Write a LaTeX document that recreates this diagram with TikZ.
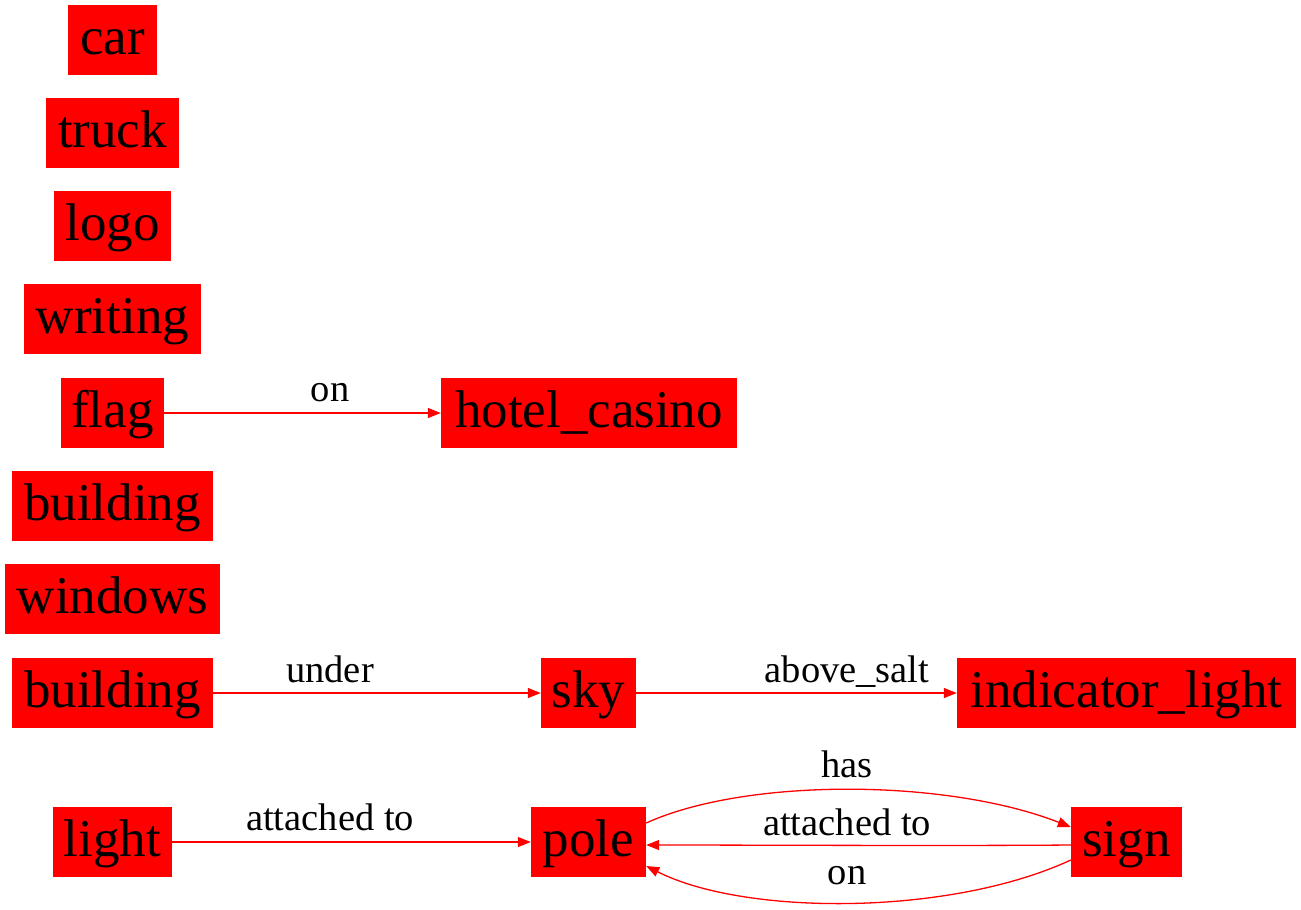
\documentclass[tikz,border=0pt]{standalone}
\usepackage{fontspec}
\setmainfont{Liberation Serif}
\usetikzlibrary{arrows.meta}
\tikzset{
  obj/.style={fill=red, draw=none, inner sep=0pt, minimum height=70pt, minimum width=#1,
    font=\fontsize{53}{60}\selectfont, text height=40pt, text depth=12pt},
  rel/.style={draw=red, line width=1.3pt, -{Triangle[length=13pt,width=10pt]}},
  lbl/.style={font=\fontsize{38.5}{44}\selectfont, inner sep=0pt, anchor=base}
}
\begin{document}
\begin{tikzpicture}[x=1pt,y=-1pt]
\useasboundingbox (0,0) rectangle (1301,910);
\node[obj=89pt]  (car)      at (112.5,40)  {car};
\node[obj=133pt] (truck)    at (112.5,133) {truck};
\node[obj=117pt] (logo)     at (112.5,226) {logo};
\node[obj=177pt] (writing)  at (112.5,319) {writing};
\node[obj=103pt] (flag)     at (112.5,413) {flag};
\node[obj=296pt] (hotel)    at (589,413)   {hotel\_casino};
\node[obj=201pt] (building) at (112.5,506) {building};
\node[obj=215pt] (windows)  at (112.5,599) {windows};
\node[obj=201pt] (buildingb) at (112.5,693) {building};
\node[obj=95pt]  (sky)      at (588.5,693) {sky};
\node[obj=339pt] (ind)      at (1126.5,693) {indicator\_light};
\node[obj=119pt] (light)    at (112.5,842) {light};
\node[obj=115pt] (pole)     at (588.5,842) {pole};
\node[obj=111pt] (sign)     at (1126.5,842) {sign};

\draw[rel] (flag) -- (hotel);
\node[lbl] (l1) at (330,401) {on};
\draw[rel] (buildingb) -- (sky);
\node[lbl] (l2) at (330,682) {under};
\draw[rel] (sky) -- (ind);
\node[lbl] (l3) at (847,682) {above\_salt};
\draw[rel] (light) -- (pole);
\node[lbl] (l4) at (330,830) {attached to};

\draw[rel] ([yshift=19pt]pole.east) .. controls (745,778) and (945,778) .. ([yshift=15pt]sign.west);
\node[lbl] (l5) at (847,777) {has};
\draw[rel] ([yshift=-3pt]sign.west) .. controls (950,846) and (745,845) .. ([yshift=-3pt]pole.east);
\node[lbl] (l6) at (847,835) {attached to};
\draw[rel] ([yshift=-18pt]sign.west) .. controls (950,916) and (745,916) .. ([yshift=-24pt]pole.east);
\node[lbl] (l7) at (847,884) {on};
\end{tikzpicture}
\end{document}
